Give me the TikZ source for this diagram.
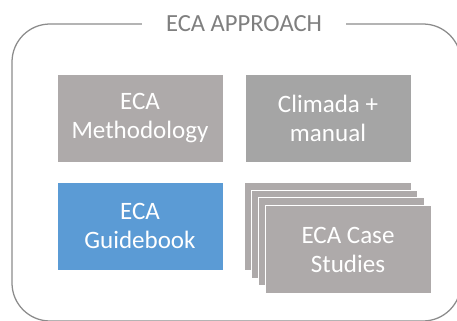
\documentclass[tikz,border=0pt]{standalone}
\usepackage{fontspec}
\setmainfont{Carlito}
\usetikzlibrary{positioning}
\definecolor{framegray}{HTML}{8C8C8C}
\definecolor{titlegray}{HTML}{7F7F7F}
\definecolor{warmgray}{HTML}{AEAAAA}
\definecolor{midgray}{HTML}{A5A5A5}
\definecolor{guideblue}{HTML}{5B9BD5}
\tikzset{
	block/.style={draw=white, line width=0.6pt, text=white, align=center, inner sep=0pt,
		minimum width=4.15cm, minimum height=2.2cm, font=\fontsize{17.8}{20.6}\selectfont},
	heading/.style={fill=white, text=titlegray, inner xsep=0.6cm, inner ysep=3pt,
		font=\fontsize{17.5}{20.6}\selectfont},
}

\begin{document}
\begin{tikzpicture}[x=0.025cm, y=-0.025cm]
			%%%%% START %%%%%
			\useasboundingbox (0, 0) rectangle (457, 320);
			
			% frame round the approach
			\draw[framegray, line width=0.9pt, rounded corners=0.95cm] (12, 24) rectangle (461, 321);
			\node[heading] (title) at (244, 24) {ECA APPROACH};
			
			% top row
			\node[block, fill=warmgray] (method) at (140, 118.5) {ECA\\Methodology};
			\node[block, fill=midgray] (climada) at (328, 118.5) {Climada +\\manual};
			
			% bottom row
			\node[block, fill=guideblue] (guide) at (140, 226) {ECA\\Guidebook};
			\foreach \k in {3,2,1}
				\node[block, fill=warmgray] (case\k) at (348-6.7*\k, 249.5-7.7*\k) {};
			\node[block, fill=warmgray] (case) at (348, 249.5) {ECA Case\\Studies};
			
			%%%%% END %%%%%
\end{tikzpicture}
\end{document}
